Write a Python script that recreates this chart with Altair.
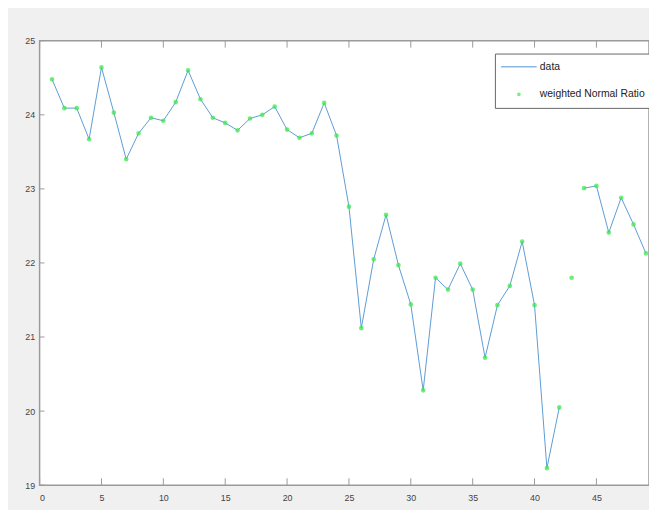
import altair as alt
import pandas as pd

# ---- data ----
x_index = list(range(1, 50))
data_values = [24.48, 24.09, 24.09, 23.67, 24.64, 24.03, 23.40, 23.75, 23.96, 23.92,
               24.17, 24.60, 24.21, 23.96, 23.89, 23.79, 23.95, 24.00, 24.11, 23.80,
               23.69, 23.75, 24.16, 23.72, 22.76, 21.12, 22.05, 22.65, 21.97, 21.44,
               20.28, 21.80, 21.64, 21.99, 21.64, 20.72, 21.43, 21.69, 22.29, 21.43,
               19.23, 20.05, None, 23.01, 23.04, 22.41, 22.88, 22.52, 22.13]
ratio_values = [24.48, 24.09, 24.09, 23.67, 24.64, 24.03, 23.40, 23.75, 23.96, 23.92,
                24.17, 24.60, 24.21, 23.96, 23.89, 23.79, 23.95, 24.00, 24.11, 23.80,
                23.69, 23.75, 24.16, 23.72, 22.76, 21.12, 22.05, 22.65, 21.97, 21.44,
                20.28, 21.80, 21.64, 21.99, 21.64, 20.72, 21.43, 21.69, 22.29, 21.43,
                19.23, 20.05, 21.80, 23.01, 23.04, 22.41, 22.88, 22.52, 22.13]
series_names = ["data", "weighted Normal Ratio"]
x_ticks = [0, 5, 10, 15, 20, 25, 30, 35, 40, 45]
y_ticks = [19, 20, 21, 22, 23, 24, 25]

line_df = pd.DataFrame({"x": x_index, "value": data_values, "series": series_names[0]})
pt_df = pd.DataFrame({"x": x_index, "value": ratio_values, "series": series_names[1]})
xt_df = pd.DataFrame({"t": x_ticks})
yt_df = pd.DataFrame({"t": y_ticks})

BLUE = "#5b9bd5"
GREEN = "#35e845"
AXC = "#9a9a9a"

xscale = alt.Scale(domain=[0, 49.25], nice=False, zero=False)
yscale = alt.Scale(domain=[19, 25], nice=False, zero=False)
color = alt.Color("series:N", title=None,
                  scale=alt.Scale(domain=series_names, range=[BLUE, GREEN]),
                  legend=alt.Legend(orient="none", legendX=461, legendY=13,
                                    strokeColor="#666666", fillColor="white",
                                    padding=8, labelFontSize=10.5, labelColor="#222222",
                                    labelFont="Liberation Sans", rowPadding=17,
                                    symbolStrokeWidth=1.5, symbolOffset=11,
                                    labelOffset=16))

xaxis = alt.Axis(values=x_ticks, tickSize=0, domain=False, grid=False, format="d",
                 labelFontSize=9, labelColor="#444444", labelPadding=9, title=None)
yaxis = alt.Axis(values=y_ticks, tickSize=0, domain=False, grid=False, format="d",
                 labelFontSize=9, labelColor="#444444", labelPadding=5, title=None)

line = alt.Chart(line_df).mark_line(strokeWidth=1, invalid="break-paths-show-domains", clip=True).encode(
    x=alt.X("x:Q", scale=xscale, axis=xaxis),
    y=alt.Y("value:Q", scale=yscale, axis=yaxis),
    color=color,
)

points = alt.Chart(pt_df).mark_point(filled=False, strokeWidth=2.5, clip=True).encode(
    x=alt.X("x:Q", scale=xscale),
    y=alt.Y("value:Q", scale=yscale),
    color=color,
    shape=alt.Shape("series:N", title=None,
                    scale=alt.Scale(domain=series_names, range=["M-6,0H6", "circle"])),
    size=alt.Size("series:N", title=None,
                  scale=alt.Scale(domain=series_names, range=[36, 5])),
)

bottom_ticks = alt.Chart(xt_df).mark_rule(color=AXC, strokeWidth=1).encode(
    x=alt.X("t:Q", scale=xscale), y=alt.value(443), y2=alt.value(450))
top_ticks = alt.Chart(xt_df).mark_rule(color=AXC, strokeWidth=1).encode(
    x=alt.X("t:Q", scale=xscale), y=alt.value(0), y2=alt.value(7))
left_ticks = alt.Chart(yt_df).mark_rule(color=AXC, strokeWidth=1).encode(
    y=alt.Y("t:Q", scale=yscale), x=alt.value(0), x2=alt.value(5))

chart = alt.layer(line, points, bottom_ticks, top_ticks, left_ticks).properties(
    width=617, height=450,
    background="#f0f0f0",
    autosize=alt.AutoSizeParams(type="none"),
    padding={"left": 32, "top": 30, "right": 0, "bottom": 22},
).configure_view(
    fill="white", stroke=AXC, strokeWidth=1.5
)

chart.save("out.html", embed_options={"renderer": "svg", "actions": False})
